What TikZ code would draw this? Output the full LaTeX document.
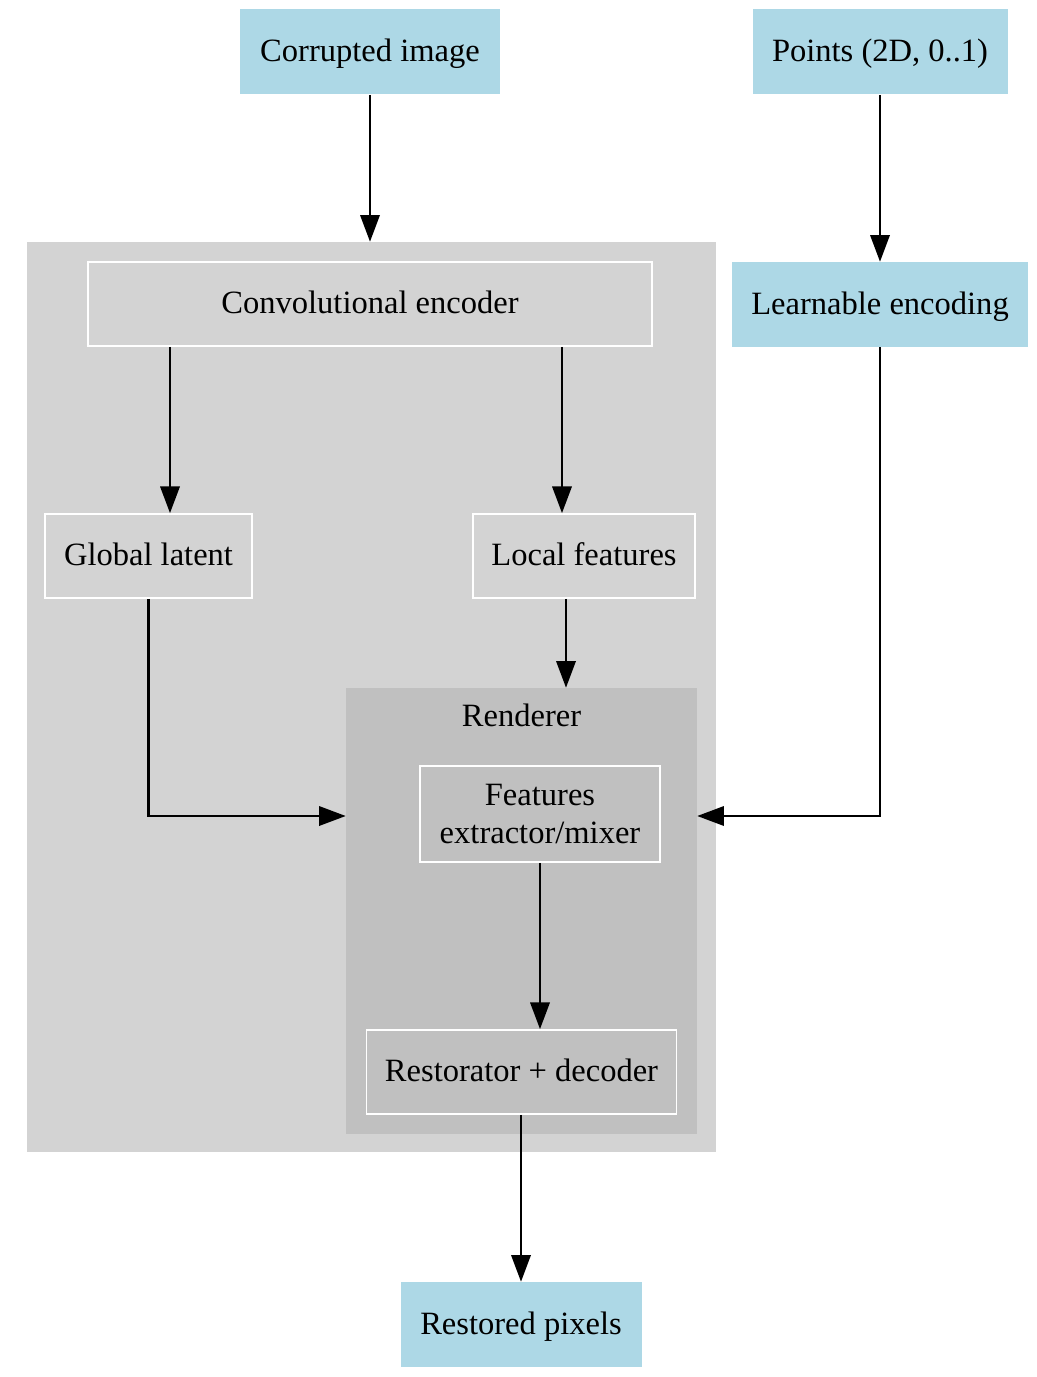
\documentclass[tikz,border=0pt]{standalone}
\usepackage{fontspec}
\setmainfont{Liberation Serif}
\usetikzlibrary{arrows.meta}
\definecolor{lblue}{HTML}{ADD8E6}
\definecolor{lgray}{HTML}{D3D3D3}
\definecolor{mgray}{HTML}{C0C0C0}
\begin{document}
\begin{tikzpicture}[x=0.75pt,y=-0.75pt,
  every node/.style={font=\fontsize{24.4pt}{28.5pt}\selectfont, inner sep=0pt, align=center},
  oneline/.style={text height=19.5pt, text depth=5pt},
  io/.style={fill=lblue, draw=none, oneline},
  inbox/.style={draw=white, line width=1.3pt},
  cluster/.style={draw=none},
  conn/.style={line width=1.8pt, -{Triangle[length=20pt,width=14.5pt]}}
]
\useasboundingbox (0,0) rectangle (1037,1377);
% clusters
\node[cluster, fill=lgray, minimum width=689*0.75pt, minimum height=910*0.75pt] (outer) at (371.5,697) {};
\node[cluster, fill=mgray, minimum width=351*0.75pt, minimum height=446*0.75pt] (rend) at (521.5,911) {};
\node[oneline] (rendlbl) at (521.5,717) {Renderer};
% io nodes
\node[io, minimum width=260*0.75pt, minimum height=85*0.75pt] (ci) at (370,52) {Corrupted image};
\node[io, minimum width=255*0.75pt, minimum height=85*0.75pt] (pts) at (880,52) {Points (2D, 0..1)};
\node[io, minimum width=296*0.75pt, minimum height=85*0.75pt] (le) at (880,304.5) {Learnable encoding};
\node[io, minimum width=241*0.75pt, minimum height=85*0.75pt] (rp) at (521,1324.5) {Restored pixels};
% inner nodes
\node[inbox, oneline, fill=lgray, minimum width=564*0.75pt, minimum height=84*0.75pt] (enc) at (370,304) {Convolutional encoder};
\node[inbox, oneline, fill=lgray, minimum width=207*0.75pt, minimum height=84*0.75pt] (gl) at (148.5,556) {Global latent};
\node[inbox, oneline, fill=lgray, minimum width=222*0.75pt, minimum height=84*0.75pt] (lf) at (584,556) {Local features};
\node[inbox, fill=mgray, minimum width=240*0.75pt, minimum height=96*0.75pt] (fe) at (540,814) {Features\\extractor/mixer};
\node[inbox, oneline, fill=mgray, minimum width=310*0.75pt, minimum height=84*0.75pt] (rs) at (521.5,1072) {Restorator + decoder};
% connectors
\draw[conn] (ci.south) -- (ci.south |- outer.north);
\draw[conn] (pts.south) -- (le.north);
\draw[conn] (170,0 |- enc.south) -- (170,0 |- gl.north);
\draw[conn] (562,0 |- enc.south) -- (562,0 |- lf.north);
\draw[conn] (566,0 |- lf.south) -- (566,0 |- rend.north);
\draw[conn] (gl.south) |- (rend.west |- 0,816);
\draw[conn] (le.south) |- (rend.east |- 0,816);
\draw[conn] (fe.south) -- (fe.south |- rs.north);
\draw[conn] (521,0 |- rs.south) -- (rp.north);
\end{tikzpicture}
\end{document}
